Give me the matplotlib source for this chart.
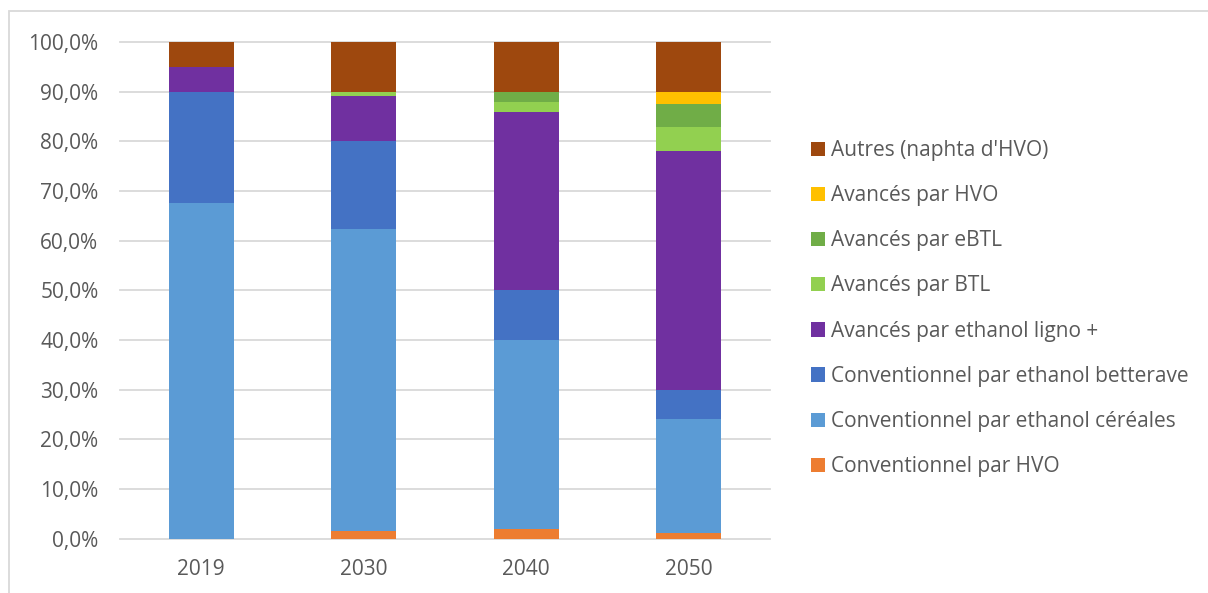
import numpy as np
import matplotlib
matplotlib.use("Agg")
from matplotlib import pyplot as plt, patches as pth

plt.rcParams['font.family'] = ['Open Sans', 'DejaVu Sans']

years = ['2019', '2030', '2040', '2050']

# parts in %, bottom to top of each bar
conv_hvo = [0.0, 1.5, 1.9, 1.1]
conv_cereales = [67.5, 60.8, 38.1, 22.9]
conv_betterave = [22.5, 17.7, 10.0, 6.0]
av_ligno = [5.0, 9.2, 36.0, 48.0]
av_btl = [0.0, 0.8, 2.0, 4.9]
av_ebtl = [0.0, 0.0, 2.0, 4.6]
av_hvo = [0.0, 0.0, 0.0, 2.5]
autres = [5.0, 10.0, 10.0, 10.0]

series = [
    ("Conventionnel par HVO", conv_hvo, '#ED7D31'),
    ("Conventionnel par ethanol céréales", conv_cereales, '#5B9BD5'),
    ("Conventionnel par ethanol betterave", conv_betterave, '#4472C4'),
    ("Avancés par ethanol ligno +", av_ligno, '#7030A0'),
    ("Avancés par BTL", av_btl, '#92D050'),
    ("Avancés par eBTL", av_ebtl, '#70AD47'),
    ("Avancés par HVO", av_hvo, '#FFC000'),
    ("Autres (naphta d'HVO)", autres, '#9E480E'),
]

TXT = '#595959'
GRID = '#d9d9d9'
FS = 15

fig = plt.figure(figsize=(12.08, 5.93), dpi=100)
ax = fig.add_axes([120/1208, 1 - 538.5/593, 650/1208, 496.5/593])

x = np.arange(len(years))
bottom = np.zeros(len(years))
handles = []
for name, vals, col in series:
    v = np.array(vals) / 100.0
    b = ax.bar(x, v, width=0.40, bottom=bottom, color=col, linewidth=0, label=name, zorder=3)
    handles.append(b)
    bottom += v

ax.set_xlim(-0.5, 3.5)
ax.set_ylim(0, 1)

yt = np.arange(0, 1.01, 0.1)
for t in yt:
    ax.axhline(t, color=GRID, lw=1.3, zorder=1, clip_on=False)
ax.set_yticks(yt)
ax.set_yticklabels([f"{t*100:.1f}%".replace('.', ',') for t in yt])
ax.set_xticks(x)
ax.set_xticklabels(years)
ax.tick_params(axis='y', length=0, pad=15.5, labelsize=FS, labelcolor=TXT)
ax.tick_params(axis='x', length=0, pad=15, labelsize=FS, labelcolor=TXT)
for s in ax.spines.values():
    s.set_visible(False)

leg = fig.legend(handles[::-1], [s[0] for s in series][::-1],
                 loc='upper left', bbox_to_anchor=(811/1208, 1 - 140/593),
                 frameon=False, fontsize=FS, labelcolor=TXT,
                 handlelength=0.68, handleheight=0.68, handletextpad=0.29,
                 labelspacing=1.16, borderpad=0, borderaxespad=0)

# chart border
fig.patches.append(pth.Rectangle((9/1208, -0.05), 1.1, 1 - 11/593 + 0.05,
                                 transform=fig.transFigure, fill=False,
                                 edgecolor=GRID, lw=1.3))

fig.savefig('out.png', dpi=100)
